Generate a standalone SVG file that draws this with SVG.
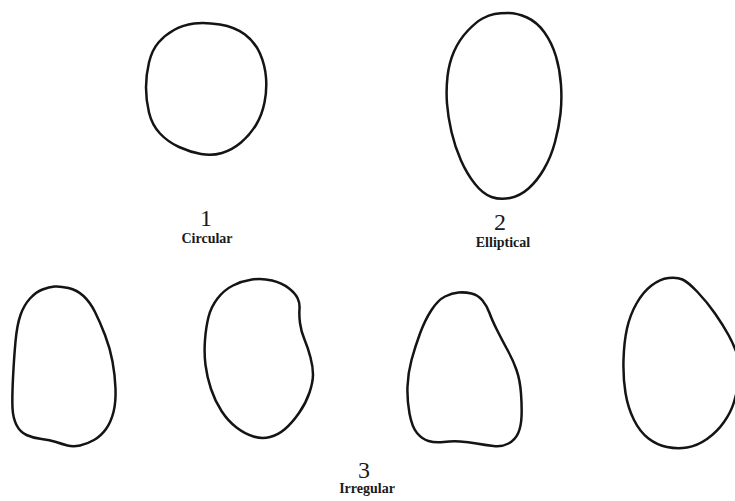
<svg xmlns="http://www.w3.org/2000/svg" width="735" height="501" viewBox="0 0 735 501">
<style>
.shape{fill:none;stroke:#141414;stroke-width:2.5;stroke-linejoin:round;stroke-linecap:round}
.num{font-family:"Liberation Serif","Times New Roman",serif;font-size:24px;fill:#1a1a1a;text-anchor:middle}
.lbl{font-family:"Liberation Serif","Times New Roman",serif;font-size:14px;font-weight:bold;fill:#1a1a1a;text-anchor:middle}
</style>
<rect width="735" height="501" fill="#ffffff"/>
<g id="circular">
<path class="shape" d="M220,24.5 Q235,27 245,34.5 Q255,42 260,53.5 Q265,65 266,77.5 Q267,90 264.5,102.5 Q262,115 256,125 Q250,135 241,142.5 Q232,150 222,153 Q212,156 201,154 Q190,152 179,147 Q168,142 160,133.5 Q152,125 149,112.5 Q146,100 146,87.5 Q146,75 149,62.5 Q152,50 158.5,42.5 Q165,35 174,30 Q183,25 194,23.5 Q205,22 220,24.5 Z"/>
<text class="num" x="206" y="226">1</text>
<text class="lbl" x="207" y="243">Circular</text>
</g>
<g id="elliptical">
<path class="shape" d="M508.5,13 Q517,13 527,17.5 Q537,22 544.5,32.5 Q552,43 556,56.5 Q560,70 561,85 Q562,100 560.5,113.5 Q559,127 555,142 Q551,157 544,169 Q537,181 528.5,188.5 Q520,196 510,198 Q500,200 491.5,197 Q483,194 475,184 Q467,174 461,160.5 Q455,147 451.5,132 Q448,117 447,103.5 Q446,90 447.5,76.5 Q449,63 454,51.5 Q459,40 467.5,31 Q476,22 482.5,18.5 Q489,15 494.5,14 Q500,13 508.5,13 Z"/>
<text class="num" x="500" y="230">2</text>
<text class="lbl" x="503" y="247">Elliptical</text>
</g>
<g id="irregular">
<g id="irregular-a">
<path class="shape" d="M68.5,288 Q77,290 83.5,296 Q90,302 95,312 Q100,322 105,335 Q110,348 112.5,361.5 Q115,375 115.5,388.5 Q116,402 113.5,412 Q111,422 106,429 Q101,436 94,440 Q87,444 80,445.5 Q73,447 67.5,445.5 Q62,444 56,442 Q50,440 41.5,439 Q33,438 26.5,435 Q20,432 16.5,425 Q13,418 12.5,408 Q12,398 13,378 Q14,358 15.5,341.5 Q17,325 20.5,315 Q24,305 30,298.5 Q36,292 42.5,289.5 Q49,287 54.5,286.5 Q60,286 68.5,288 Z"/>
</g>
<g id="irregular-b">
<path class="shape" d="M272,280.5 Q282,283 288.5,288 Q295,293 297.5,298 Q300,303 299.5,309 Q299,315 300,323 Q301,331 304.5,339.5 Q308,348 310.5,357.5 Q313,367 313,374.5 Q313,382 309.5,392.5 Q306,403 299,413 Q292,423 285,429 Q278,435 270,437 Q262,439 253.5,436.5 Q245,434 236.5,427.5 Q228,421 221.5,411 Q215,401 211,389 Q207,377 205.5,365 Q204,353 205,340 Q206,327 208.5,317 Q211,307 217.5,298.5 Q224,290 233,285.5 Q242,281 252,279.5 Q262,278 272,280.5 Z"/>
</g>
<g id="irregular-c">
<path class="shape" d="M471.5,293.5 Q478,295 482.5,300.5 Q487,306 489.5,313 Q492,320 497,330 Q502,340 507.5,350 Q513,360 516.5,370 Q520,380 521,393.5 Q522,407 521.5,417 Q521,427 518,433.5 Q515,440 508.5,443.5 Q502,447 493.5,446 Q485,445 476.5,443.5 Q468,442 460,441.5 Q452,441 443.5,442 Q435,443 428.5,441 Q422,439 417,433 Q412,427 409.5,413.5 Q407,400 407.5,386.5 Q408,373 411.5,360 Q415,347 420,333.5 Q425,320 431.5,310 Q438,300 445,296.5 Q452,293 458.5,292.5 Q465,292 471.5,293.5 Z"/>
</g>
<g id="irregular-d">
<path class="shape" d="M682.5,279.5 Q688,282 697.5,292 Q707,302 715,313.5 Q723,325 728.5,335 Q734,345 738,356.5 Q742,368 739.5,380 Q737,392 734,402 Q731,412 724,422 Q717,432 707,439 Q697,446 687,447.5 Q677,449 667,447 Q657,445 648.5,438.5 Q640,432 634,420 Q628,408 625.5,393 Q623,378 623.5,360 Q624,342 627,328.5 Q630,315 636.5,303.5 Q643,292 651.5,285.5 Q660,279 668.5,278 Q677,277 682.5,279.5 Z"/>
</g>
<text class="num" x="364" y="478">3</text>
<text class="lbl" x="367" y="493">Irregular</text>
</g>
</svg>
